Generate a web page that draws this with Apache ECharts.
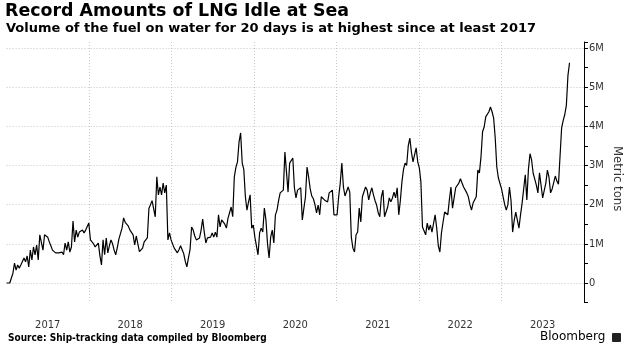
<!DOCTYPE html>
<html>
<head>
<meta charset="utf-8">
<script src="https://cdn.jsdelivr.net/npm/echarts@6/dist/echarts.min.js"></script>
<style>
  html, body { margin: 0; padding: 0; background: #fff; }
  #chart { width: 629px; height: 354px; }
</style>
</head>
<body>
<div id="chart"></div>
<script>
// LNG on water for 20+ days, million metric tons, one value per week from 2017-01-01
const startYear = 2017;
const weeklyVolume = [
  // 2017
  0, 0, 0, 0, 0.25, 0.51, 0.33, 0.46, 0.38, 0.46,
  0.50, 0.64, 0.54, 0.69, 0.41, 0.84, 0.59, 0.92, 0.72, 0.97,
  0.59, 1.23, 1.28, 0.84, 1.23, 1.20, 1.17, 1.05, 0.95, 0.84,
  0.80, 0.77, 0.79, 0.77, 0.78, 0.79, 0.72, 1.02, 0.84, 1.05,
  0.79, 0.92, 1.58, 1.05, 1.35, 1.17, 1.30, 1.28, 1.35, 1.28,
  1.35, 1.40,
  // 2018
  1.53, 1.10, 1.07, 1.00, 0.92, 0.95, 1.02, 0.70, 0.46, 1.10,
  0.72, 1.15, 0.77, 0.95, 1.10, 1.00, 0.84, 0.72, 0.90, 1.12,
  1.10, 1.40, 1.66, 1.55, 1.50, 1.45, 1.35, 1.40, 1.23, 0.97,
  1.20, 1.15, 0.80, 0.85, 0.89, 1.05, 1.00, 1.15, 1.90, 2.00,
  2.10, 2.07, 1.69, 2.71, 2.25, 2.45, 2.25, 2.55, 2.30, 2.50,
  1.10, 1.28,
  // 2019
  1.10, 1.15, 0.89, 0.90, 0.77, 0.85, 0.95, 0.85, 0.75, 0.55,
  0.41, 0.64, 0.85, 1.43, 1.35, 1.20, 1.10, 1.15, 1.15, 1.35,
  1.63, 1.30, 1.02, 1.15, 1.16, 1.17, 1.28, 1.17, 1.30, 1.17,
  1.74, 1.43, 1.61, 1.66, 1.50, 1.40, 1.65, 1.61, 1.94, 1.69,
  2.70, 2.95, 3.09, 3.60, 3.83, 3.06, 2.90, 2.20, 1.86, 2.07,
  2.25, 1.40,
  // 2020
  1.48, 1.17, 1.15, 0.72, 1.28, 1.40, 1.30, 1.91, 1.61, 1.00,
  0.64, 1.17, 1.35, 1.02, 1.74, 1.86, 2.10, 2.30, 2.32, 2.37,
  3.34, 3.32, 2.32, 3.06, 3.09, 3.19, 2.43, 2.17, 2.37, 2.40,
  2.43, 1.61, 1.61, 2.20, 2.96, 2.70, 2.40, 2.22, 2.15, 2.00,
  1.79, 1.99, 1.74, 2.20, 2.25, 2.12, 2.12, 2.07, 2.30, 2.25,
  2.37, 1.74,
  // 2021
  1.69, 1.74, 2.20, 2.55, 3.06, 2.45, 2.22, 2.17, 2.45, 2.32,
  1.17, 0.89, 0.79, 1.23, 1.30, 1.91, 1.56, 2.20, 2.25, 2.45,
  2.37, 2.12, 2.30, 2.43, 2.25, 2.10, 1.99, 1.79, 1.69, 2.20,
  2.37, 1.69, 1.69, 1.94, 2.17, 2.07, 2.17, 2.32, 2.17, 2.43,
  1.74, 2.10, 2.58, 2.90, 3.06, 3.00, 3.50, 3.70, 3.34, 3.09,
  3.06, 3.45,
  // 2022
  3.09, 2.94, 2.58, 1.43, 1.40, 1.23, 1.53, 1.35, 1.48, 1.30,
  1.35, 1.74, 1.40, 0.95, 0.79, 1.28, 1.55, 1.81, 1.86, 1.74,
  2.12, 2.45, 1.91, 1.94, 2.43, 2.45, 2.55, 2.66, 2.55, 2.45,
  2.43, 2.30, 2.20, 2.00, 1.86, 2.04, 2.04, 2.20, 2.88, 2.81,
  3.22, 3.86, 3.98, 4.24, 4.29, 4.37, 4.49, 4.37, 4.21, 3.70,
  2.96, 2.68,
  // 2023
  2.63, 2.40, 2.20, 2.00, 1.86, 2.00, 2.45, 2.10, 1.30, 1.60,
  1.81, 1.86, 1.40, 1.74, 2.04, 2.40, 2.76, 2.12, 2.90, 3.30,
  3.14, 2.80, 2.65, 2.50, 2.30, 2.81, 2.81, 2.17, 2.20, 2.55,
  2.88, 2.70, 2.30, 2.40, 2.45, 2.73, 2.60, 2.52, 2.50, 3.96,
  4.15, 4.30, 4.54, 5.30, 5.62
];
const yearLabels = ['2017', '2018', '2019', '2020', '2021', '2022', '2023'];
const yTickLabels = ['0', '1M', '2M', '3M', '4M', '5M', '6M'];

const DAY = 86400000;
const t0 = Date.UTC(startYear, 0, 1);
const seriesData = weeklyVolume.map((v, i) => [t0 + i * 7 * DAY, v]);
const yearStarts = yearLabels.slice(1).map(y => Date.UTC(+y, 0, 1));
const midYears = yearLabels.map(y => Date.UTC(+y, 6, 2));

const font = "'DejaVu Sans', Verdana, sans-serif";
const narrow = "'DejaVu Sans Condensed', 'DejaVu Sans', sans-serif";
const gridLine = { type: [1, 2], color: '#c8c8c8', width: 1 };

const chart = echarts.init(document.getElementById('chart'), null, { renderer: 'canvas' });
chart.setOption({
  animation: false,
  backgroundColor: '#fff',
  title: [
    {
      text: 'Record Amounts of LNG Idle at Sea',
      left: 5, top: 3, padding: 0,
      textStyle: { fontFamily: font, fontSize: 17.4, fontWeight: 'bold', color: '#000' }
    },
    {
      text: 'Volume of the fuel on water for 20 days is at highest since at least 2017',
      left: 6, top: 22, padding: 0,
      textStyle: { fontFamily: font, fontSize: 13, fontWeight: 'bold', color: '#000' }
    },
    {
      text: 'Source: Ship-tracking data compiled by Bloomberg',
      left: 8, top: 333, padding: 0,
      textStyle: { fontFamily: narrow, fontSize: 10, fontWeight: 'bold', color: '#000' }
    },
    {
      text: 'Bloomberg',
      left: 540, top: 331, padding: 0,
      textStyle: { fontFamily: font, fontSize: 12, fontWeight: 'normal', color: '#000' }
    }
  ],
  graphic: [
    {
      type: 'text', left: 611, top: 146, rotation: -Math.PI / 2,
      style: { text: 'Metric tons', font: '13px ' + narrow, fill: '#333' }
    },
    {
      type: 'rect', left: 612, top: 333, shape: { width: 9, height: 9, r: 1 },
      style: { fill: '#222' }
    }
  ],
  grid: { left: 6.6, right: 45, top: 42, bottom: 51.4, containLabel: false },
  xAxis: {
    type: 'value',
    min: t0,
    max: Date.UTC(2024, 0, 1),
    axisLine: { show: false },
    axisTick: { show: false, customValues: yearStarts },
    splitLine: { show: true, lineStyle: gridLine },
    axisLabel: {
      customValues: midYears,
      formatter: v => String(new Date(v).getUTCFullYear()),
      fontFamily: narrow, fontSize: 11, color: '#333', margin: 17
    }
  },
  yAxis: {
    type: 'value',
    position: 'right',
    min: -0.5, max: 6.15, interval: 0.5,
    axisLine: { show: true, lineStyle: { color: '#000', width: 1 } },
    axisTick: { show: true, inside: false, length: 4, lineStyle: { color: '#000' } },
    axisLabel: {
      formatter: v => {
        const r = Math.round(v);
        return (Math.abs(v - r) < 1e-6 && r >= 0) ? yTickLabels[r] : '';
      },
      fontFamily: narrow, fontSize: 11, color: '#333', margin: 5
    },
    splitLine: {
      show: true,
      lineStyle: Object.assign({}, gridLine, { color: ['rgba(0,0,0,0)', '#c8c8c8'] })
    }
  },
  series: [{
    type: 'line',
    data: seriesData,
    showSymbol: false,
    lineStyle: { color: '#000', width: 1.2 },
    emphasis: { disabled: true }
  }]
});
</script>
</body>
</html>
